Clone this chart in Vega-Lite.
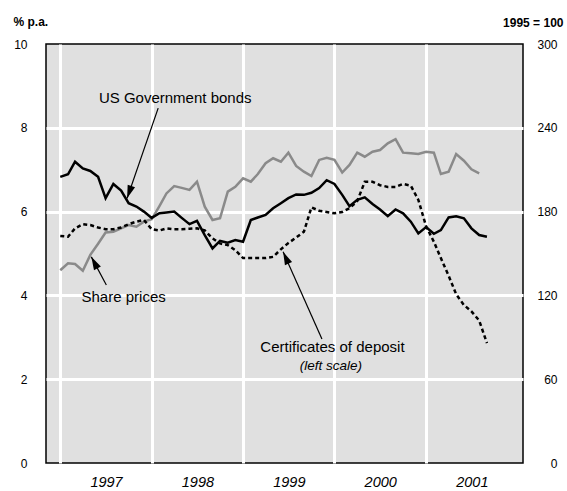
{
  "$schema": "https://vega.github.io/schema/vega-lite/v6.json",
  "width": 477,
  "height": 419,
  "autosize": {"type": "none"},
  "padding": {"left": 46, "top": 44, "right": 44, "bottom": 28},
  "background": "white",
  "config": {
    "view": {"fill": "#e0e0e0", "stroke": "#000000", "strokeWidth": 1.5},
    "font": "Liberation Sans",
    "text": {"font": "Liberation Sans"}
  },
  "datasets": {
    "series": [
      {"date": "1997-01-01", "series": "bonds", "value": 6.83},
      {"date": "1997-02-01", "series": "bonds", "value": 6.89},
      {"date": "1997-03-01", "series": "bonds", "value": 7.19},
      {"date": "1997-04-01", "series": "bonds", "value": 7.03},
      {"date": "1997-05-01", "series": "bonds", "value": 6.97},
      {"date": "1997-06-01", "series": "bonds", "value": 6.83},
      {"date": "1997-07-01", "series": "bonds", "value": 6.32},
      {"date": "1997-08-01", "series": "bonds", "value": 6.66},
      {"date": "1997-09-01", "series": "bonds", "value": 6.50},
      {"date": "1997-10-01", "series": "bonds", "value": 6.20},
      {"date": "1997-11-01", "series": "bonds", "value": 6.12},
      {"date": "1997-12-01", "series": "bonds", "value": 6.00},
      {"date": "1998-01-01", "series": "bonds", "value": 5.85},
      {"date": "1998-02-01", "series": "bonds", "value": 5.96},
      {"date": "1998-03-01", "series": "bonds", "value": 5.98},
      {"date": "1998-04-01", "series": "bonds", "value": 6.00},
      {"date": "1998-05-01", "series": "bonds", "value": 5.85},
      {"date": "1998-06-01", "series": "bonds", "value": 5.70},
      {"date": "1998-07-01", "series": "bonds", "value": 5.78},
      {"date": "1998-08-01", "series": "bonds", "value": 5.44},
      {"date": "1998-09-01", "series": "bonds", "value": 5.12},
      {"date": "1998-10-01", "series": "bonds", "value": 5.30},
      {"date": "1998-11-01", "series": "bonds", "value": 5.26},
      {"date": "1998-12-01", "series": "bonds", "value": 5.32},
      {"date": "1999-01-01", "series": "bonds", "value": 5.28},
      {"date": "1999-02-01", "series": "bonds", "value": 5.80},
      {"date": "1999-03-01", "series": "bonds", "value": 5.86},
      {"date": "1999-04-01", "series": "bonds", "value": 5.92},
      {"date": "1999-05-01", "series": "bonds", "value": 6.08},
      {"date": "1999-06-01", "series": "bonds", "value": 6.20},
      {"date": "1999-07-01", "series": "bonds", "value": 6.32},
      {"date": "1999-08-01", "series": "bonds", "value": 6.41},
      {"date": "1999-09-01", "series": "bonds", "value": 6.40},
      {"date": "1999-10-01", "series": "bonds", "value": 6.45},
      {"date": "1999-11-01", "series": "bonds", "value": 6.56},
      {"date": "1999-12-01", "series": "bonds", "value": 6.75},
      {"date": "2000-01-01", "series": "bonds", "value": 6.66},
      {"date": "2000-02-01", "series": "bonds", "value": 6.40},
      {"date": "2000-03-01", "series": "bonds", "value": 6.13},
      {"date": "2000-04-01", "series": "bonds", "value": 6.28},
      {"date": "2000-05-01", "series": "bonds", "value": 6.34},
      {"date": "2000-06-01", "series": "bonds", "value": 6.18},
      {"date": "2000-07-01", "series": "bonds", "value": 6.05},
      {"date": "2000-08-01", "series": "bonds", "value": 5.89},
      {"date": "2000-09-01", "series": "bonds", "value": 6.05},
      {"date": "2000-10-01", "series": "bonds", "value": 5.96},
      {"date": "2000-11-01", "series": "bonds", "value": 5.76},
      {"date": "2000-12-01", "series": "bonds", "value": 5.48},
      {"date": "2001-01-01", "series": "bonds", "value": 5.63},
      {"date": "2001-02-01", "series": "bonds", "value": 5.47},
      {"date": "2001-03-01", "series": "bonds", "value": 5.56},
      {"date": "2001-04-01", "series": "bonds", "value": 5.86},
      {"date": "2001-05-01", "series": "bonds", "value": 5.89},
      {"date": "2001-06-01", "series": "bonds", "value": 5.84},
      {"date": "2001-07-01", "series": "bonds", "value": 5.60},
      {"date": "2001-08-01", "series": "bonds", "value": 5.44},
      {"date": "2001-09-01", "series": "bonds", "value": 5.40},
      {"date": "1997-01-01", "series": "cd", "value": 5.42},
      {"date": "1997-02-01", "series": "cd", "value": 5.40},
      {"date": "1997-03-01", "series": "cd", "value": 5.60},
      {"date": "1997-04-01", "series": "cd", "value": 5.70},
      {"date": "1997-05-01", "series": "cd", "value": 5.68},
      {"date": "1997-06-01", "series": "cd", "value": 5.62},
      {"date": "1997-07-01", "series": "cd", "value": 5.58},
      {"date": "1997-08-01", "series": "cd", "value": 5.58},
      {"date": "1997-09-01", "series": "cd", "value": 5.62},
      {"date": "1997-10-01", "series": "cd", "value": 5.70},
      {"date": "1997-11-01", "series": "cd", "value": 5.76},
      {"date": "1997-12-01", "series": "cd", "value": 5.80},
      {"date": "1998-01-01", "series": "cd", "value": 5.58},
      {"date": "1998-02-01", "series": "cd", "value": 5.55},
      {"date": "1998-03-01", "series": "cd", "value": 5.60},
      {"date": "1998-04-01", "series": "cd", "value": 5.58},
      {"date": "1998-05-01", "series": "cd", "value": 5.58},
      {"date": "1998-06-01", "series": "cd", "value": 5.59},
      {"date": "1998-07-01", "series": "cd", "value": 5.60},
      {"date": "1998-08-01", "series": "cd", "value": 5.55},
      {"date": "1998-09-01", "series": "cd", "value": 5.36},
      {"date": "1998-10-01", "series": "cd", "value": 5.24},
      {"date": "1998-11-01", "series": "cd", "value": 5.20},
      {"date": "1998-12-01", "series": "cd", "value": 5.08},
      {"date": "1999-01-01", "series": "cd", "value": 4.89},
      {"date": "1999-02-01", "series": "cd", "value": 4.89},
      {"date": "1999-03-01", "series": "cd", "value": 4.89},
      {"date": "1999-04-01", "series": "cd", "value": 4.89},
      {"date": "1999-05-01", "series": "cd", "value": 4.92},
      {"date": "1999-06-01", "series": "cd", "value": 5.10},
      {"date": "1999-07-01", "series": "cd", "value": 5.25},
      {"date": "1999-08-01", "series": "cd", "value": 5.38},
      {"date": "1999-09-01", "series": "cd", "value": 5.52},
      {"date": "1999-10-01", "series": "cd", "value": 6.10},
      {"date": "1999-11-01", "series": "cd", "value": 6.02},
      {"date": "1999-12-01", "series": "cd", "value": 5.99},
      {"date": "2000-01-01", "series": "cd", "value": 5.96},
      {"date": "2000-02-01", "series": "cd", "value": 5.99},
      {"date": "2000-03-01", "series": "cd", "value": 6.08},
      {"date": "2000-04-01", "series": "cd", "value": 6.25},
      {"date": "2000-05-01", "series": "cd", "value": 6.71},
      {"date": "2000-06-01", "series": "cd", "value": 6.71},
      {"date": "2000-07-01", "series": "cd", "value": 6.63},
      {"date": "2000-08-01", "series": "cd", "value": 6.59},
      {"date": "2000-09-01", "series": "cd", "value": 6.59},
      {"date": "2000-10-01", "series": "cd", "value": 6.66},
      {"date": "2000-11-01", "series": "cd", "value": 6.62},
      {"date": "2000-12-01", "series": "cd", "value": 6.28},
      {"date": "2001-01-01", "series": "cd", "value": 5.65},
      {"date": "2001-02-01", "series": "cd", "value": 5.28},
      {"date": "2001-03-01", "series": "cd", "value": 4.89},
      {"date": "2001-04-01", "series": "cd", "value": 4.47},
      {"date": "2001-05-01", "series": "cd", "value": 4.03},
      {"date": "2001-06-01", "series": "cd", "value": 3.77},
      {"date": "2001-07-01", "series": "cd", "value": 3.62},
      {"date": "2001-08-01", "series": "cd", "value": 3.40},
      {"date": "2001-09-01", "series": "cd", "value": 2.86},
      {"date": "1997-01-01", "series": "shares", "value": 138.0},
      {"date": "1997-02-01", "series": "shares", "value": 143.0},
      {"date": "1997-03-01", "series": "shares", "value": 142.5},
      {"date": "1997-04-01", "series": "shares", "value": 137.7},
      {"date": "1997-05-01", "series": "shares", "value": 149.0},
      {"date": "1997-06-01", "series": "shares", "value": 157.0},
      {"date": "1997-07-01", "series": "shares", "value": 165.0},
      {"date": "1997-08-01", "series": "shares", "value": 165.6},
      {"date": "1997-09-01", "series": "shares", "value": 168.0},
      {"date": "1997-10-01", "series": "shares", "value": 170.4},
      {"date": "1997-11-01", "series": "shares", "value": 169.2},
      {"date": "1997-12-01", "series": "shares", "value": 172.8},
      {"date": "1998-01-01", "series": "shares", "value": 174.5},
      {"date": "1998-02-01", "series": "shares", "value": 184.0},
      {"date": "1998-03-01", "series": "shares", "value": 193.0},
      {"date": "1998-04-01", "series": "shares", "value": 198.3},
      {"date": "1998-05-01", "series": "shares", "value": 197.0},
      {"date": "1998-06-01", "series": "shares", "value": 195.5},
      {"date": "1998-07-01", "series": "shares", "value": 201.4},
      {"date": "1998-08-01", "series": "shares", "value": 183.5},
      {"date": "1998-09-01", "series": "shares", "value": 174.0},
      {"date": "1998-10-01", "series": "shares", "value": 175.2},
      {"date": "1998-11-01", "series": "shares", "value": 194.3},
      {"date": "1998-12-01", "series": "shares", "value": 197.8},
      {"date": "1999-01-01", "series": "shares", "value": 203.8},
      {"date": "1999-02-01", "series": "shares", "value": 201.4},
      {"date": "1999-03-01", "series": "shares", "value": 206.9},
      {"date": "1999-04-01", "series": "shares", "value": 214.6},
      {"date": "1999-05-01", "series": "shares", "value": 218.2},
      {"date": "1999-06-01", "series": "shares", "value": 215.7},
      {"date": "1999-07-01", "series": "shares", "value": 222.2},
      {"date": "1999-08-01", "series": "shares", "value": 212.7},
      {"date": "1999-09-01", "series": "shares", "value": 208.6},
      {"date": "1999-10-01", "series": "shares", "value": 205.5},
      {"date": "1999-11-01", "series": "shares", "value": 217.0},
      {"date": "1999-12-01", "series": "shares", "value": 218.6},
      {"date": "2000-01-01", "series": "shares", "value": 217.0},
      {"date": "2000-02-01", "series": "shares", "value": 208.0},
      {"date": "2000-03-01", "series": "shares", "value": 213.4},
      {"date": "2000-04-01", "series": "shares", "value": 222.2},
      {"date": "2000-05-01", "series": "shares", "value": 219.3},
      {"date": "2000-06-01", "series": "shares", "value": 222.9},
      {"date": "2000-07-01", "series": "shares", "value": 224.1},
      {"date": "2000-08-01", "series": "shares", "value": 228.9},
      {"date": "2000-09-01", "series": "shares", "value": 231.8},
      {"date": "2000-10-01", "series": "shares", "value": 222.2},
      {"date": "2000-11-01", "series": "shares", "value": 221.7},
      {"date": "2000-12-01", "series": "shares", "value": 221.2},
      {"date": "2001-01-01", "series": "shares", "value": 222.9},
      {"date": "2001-02-01", "series": "shares", "value": 222.2},
      {"date": "2001-03-01", "series": "shares", "value": 206.9},
      {"date": "2001-04-01", "series": "shares", "value": 208.6},
      {"date": "2001-05-01", "series": "shares", "value": 221.2},
      {"date": "2001-06-01", "series": "shares", "value": 216.4},
      {"date": "2001-07-01", "series": "shares", "value": 210.3},
      {"date": "2001-08-01", "series": "shares", "value": 207.4}
    ],
    "arrows": [
      {"label": "bonds", "date": "1998-01-27", "value": 8.47, "date2": "1997-09-25", "value2": 6.32},
      {"label": "shares", "date": "1997-07-04", "value": 4.25, "date2": "1997-05-05", "value2": 4.92},
      {"label": "cd", "date": "1999-11-12", "value": 2.96, "date2": "1999-06-10", "value2": 5.04}
    ],
    "labels": [
      {"text": "US Government bonds", "date": "1998-04-05", "value": 8.59},
      {"text": "Share prices", "date": "1997-09-11", "value": 3.85},
      {"text": "Certificates of deposit", "date": "1999-12-24", "value": 2.66},
      {"text": "(left scale)", "date": "1999-12-18", "value": 2.22}
    ]
  },
  "encoding": {
    "x": {
      "field": "date",
      "type": "temporal",
      "scale": {
        "type": "utc",
        "domain": [
          {"year": 1996, "month": 11, "date": 5, "utc": true},
          {"year": 2002, "month": 1, "date": 23, "utc": true}
        ]
      },
      "axis": {
        "values": [
          {"year": 1997, "month": 1, "date": 1, "utc": true},
          {"year": 1998, "month": 1, "date": 1, "utc": true},
          {"year": 1999, "month": 1, "date": 1, "utc": true},
          {"year": 2000, "month": 1, "date": 1, "utc": true},
          {"year": 2001, "month": 1, "date": 1, "utc": true}
        ],
        "format": "%Y",
        "labelOffset": 45.75,
        "labelFlush": false,
        "ticks": false,
        "domain": false,
        "grid": true,
        "gridColor": "white",
        "gridWidth": 3,
        "labelFontStyle": "italic",
        "labelFontSize": 14.5,
        "labelColor": "black",
        "labelPadding": 12,
        "title": null
      }
    }
  },
  "layer": [
    {
      "data": {"name": "series"},
      "transform": [{"filter": "datum.series === 'shares'"}],
      "mark": {"type": "line", "color": "#8a8a8a", "strokeWidth": 2.5},
      "encoding": {
        "y": {
          "field": "value",
          "type": "quantitative",
          "scale": {"domain": [0, 300]},
          "axis": {
            "orient": "right",
            "values": [0, 60, 120, 180, 240, 300],
            "grid": false,
            "ticks": false,
            "domain": false,
            "labelAlign": "right",
            "labelPadding": 34,
            "labelFontSize": 12,
            "labelColor": "black",
            "title": "1995 = 100",
            "titleAngle": 0,
            "titleX": 40,
            "titleY": -18,
            "titleAlign": "right",
            "titleBaseline": "alphabetic",
            "titleFontSize": 12,
            "titleFontWeight": "bold",
            "titleColor": "black"
          }
        }
      }
    },
    {
      "encoding": {
        "y": {
          "field": "value",
          "type": "quantitative",
          "scale": {"domain": [0, 10]},
          "axis": {
            "orient": "left",
            "values": [0, 2, 4, 6, 8, 10],
            "grid": true,
            "gridColor": {"condition": {"test": "datum.value === 0 || datum.value === 10", "value": "transparent"}, "value": "white"},
            "gridWidth": 3,
            "ticks": false,
            "domain": false,
            "labelPadding": 19,
            "labelFontSize": 12,
            "labelColor": "black",
            "title": "% p.a.",
            "titleAngle": 0,
            "titleX": -33,
            "titleY": -18.5,
            "titleAlign": "left",
            "titleBaseline": "alphabetic",
            "titleFontSize": 12,
            "titleFontWeight": "bold",
            "titleColor": "black"
          }
        }
      },
      "layer": [
        {
          "data": {"name": "series"},
          "transform": [{"filter": "datum.series === 'cd'"}],
          "mark": {"type": "line", "color": "black", "strokeWidth": 2.5, "strokeDash": [4, 3]}
        },
        {
          "data": {"name": "series"},
          "transform": [{"filter": "datum.series === 'bonds'"}],
          "mark": {"type": "line", "color": "black", "strokeWidth": 2.5}
        },
        {
          "data": {"name": "arrows"},
          "mark": {"type": "rule", "color": "black", "strokeWidth": 1.2},
          "encoding": {
            "x2": {"field": "date2"},
            "y2": {"field": "value2"}
          }
        },
        {
          "data": {"name": "arrows"},
          "transform": [{"filter": "datum.label === 'bonds'"}],
          "mark": {"type": "point", "shape": "M0,0L0.6,2L-0.6,2Z", "size": 169, "filled": true, "color": "black", "opacity": 1, "strokeWidth": 0, "angle": 199},
          "encoding": {
            "x": {"field": "date2", "type": "temporal"},
            "y": {"field": "value2", "type": "quantitative"}
          }
        },
        {
          "data": {"name": "arrows"},
          "transform": [{"filter": "datum.label === 'shares'"}],
          "mark": {"type": "point", "shape": "M0,0L0.6,2L-0.6,2Z", "size": 169, "filled": true, "color": "black", "opacity": 1, "strokeWidth": 0, "angle": 332},
          "encoding": {
            "x": {"field": "date2", "type": "temporal"},
            "y": {"field": "value2", "type": "quantitative"}
          }
        },
        {
          "data": {"name": "arrows"},
          "transform": [{"filter": "datum.label === 'cd'"}],
          "mark": {"type": "point", "shape": "M0,0L0.6,2L-0.6,2Z", "size": 169, "filled": true, "color": "black", "opacity": 1, "strokeWidth": 0, "angle": 335.6},
          "encoding": {
            "x": {"field": "date2", "type": "temporal"},
            "y": {"field": "value2", "type": "quantitative"}
          }
        },
        {
          "data": {"name": "labels"},
          "transform": [{"filter": "datum.text !== '(left scale)'"}],
          "mark": {"type": "text", "align": "center", "baseline": "alphabetic", "fontSize": 15, "color": "black"},
          "encoding": {"text": {"field": "text"}}
        },
        {
          "data": {"name": "labels"},
          "transform": [{"filter": "datum.text === '(left scale)'"}],
          "mark": {"type": "text", "align": "center", "baseline": "alphabetic", "fontSize": 13.5, "fontStyle": "italic", "color": "black"},
          "encoding": {"text": {"field": "text"}}
        }
      ]
    }
  ],
  "resolve": {"scale": {"y": "independent"}}
}
